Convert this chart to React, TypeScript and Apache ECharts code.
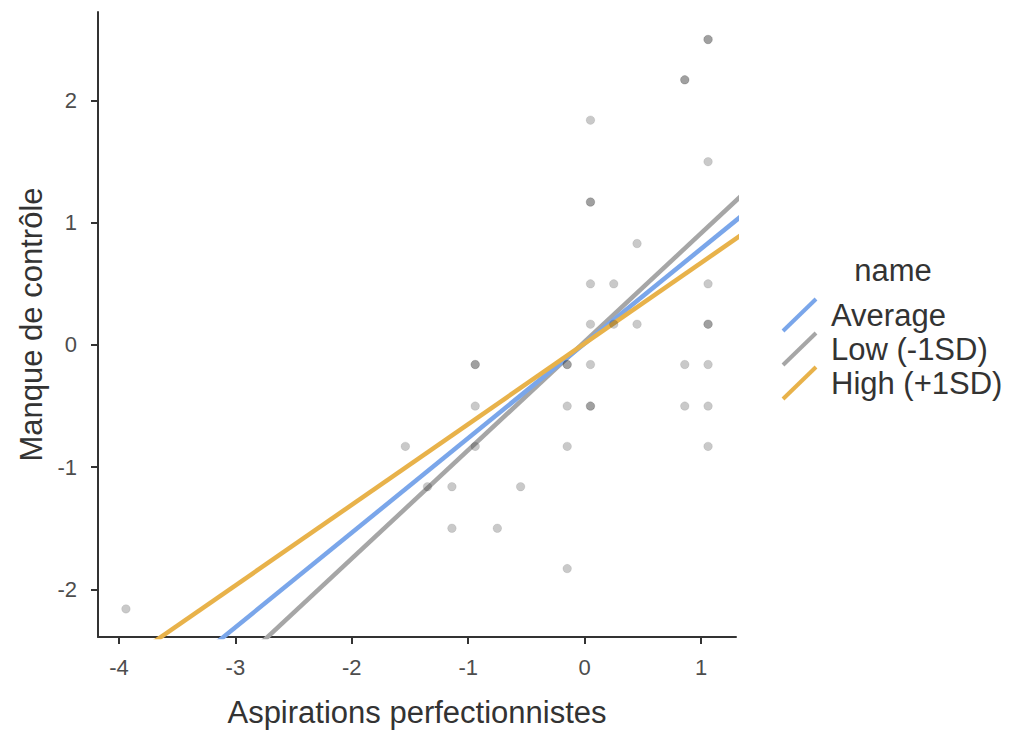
import React, { useEffect, useRef } from "react";
import * as echarts from "echarts";

const xTicks = [-4, -3, -2, -1, 0, 1];
const yTicks = [-2, -1, 0, 1, 2];

// observed points (duplicates = overlapping darker points)
const pointX = [
  -3.94, -1.54, -1.35, -1.14, -1.14, -0.94, -0.94, -0.94, -0.94, -0.75, -0.55,
  -0.15, -0.15, -0.15, -0.15, -0.15, 0.05, 0.05, 0.05, 0.05, 0.05, 0.05, 0.05,
  0.05, 0.25, 0.25, 0.45, 0.45, 0.86, 0.86, 0.86, 0.86, 1.06, 1.06, 1.06, 1.06,
  1.06, 1.06, 1.06, 1.06, 1.06,
];
const pointY = [
  -2.16, -0.83, -1.16, -1.16, -1.5, -0.16, -0.16, -0.5, -0.83, -1.5, -1.16,
  -0.16, -0.16, -0.5, -0.83, -1.83, -0.5, -0.5, -0.16, 0.17, 0.5, 1.17, 1.17,
  1.84, 0.17, 0.5, 0.17, 0.83, -0.16, -0.5, 2.17, 2.17, 2.5, 2.5, 1.5, 0.5,
  0.17, 0.17, -0.16, -0.5, -0.83,
];

const lineX = [-4.2, 1.35];
const averageY = [-3.24, 1.058];
const lowY = [-3.7, 1.225];
const highY = [-2.76, 0.903];

const seriesNames = ["Average", "Low (-1SD)", "High (+1SD)"];
const seriesColors = ["#7aa6ea", "#a6a6a6", "#e8b24a"];

const FONT = "Liberation Sans, Arial, sans-serif";

export default function App() {
  const ref = useRef<HTMLDivElement>(null);
  useEffect(() => {
    if (!ref.current) return;
    const chart = echarts.init(ref.current, null, { renderer: "svg" });
    const lineData = [averageY, lowY, highY].map((ys) =>
      lineX.map((x, i) => [x, ys[i]])
    );
    const drawOrder = [1, 0, 2];
    const legendY = [315, 349, 383];
    chart.setOption({
      animation: false,
      backgroundColor: "#ffffff",
      grid: { left: 98, top: 12, right: 273, bottom: 93, containLabel: false },
      xAxis: {
        type: "value",
        min: -4.18,
        max: 1.3,
        name: "Aspirations perfectionnistes",
        nameLocation: "middle",
        nameGap: 60,
        nameTextStyle: { fontSize: 31, color: "#333", fontFamily: FONT },
        splitLine: { show: false },
        axisLine: { show: true, onZero: false, lineStyle: { color: "#333", width: 2 } },
        axisTick: { show: true, length: 7, customValues: xTicks, lineStyle: { color: "#333", width: 2 } },
        axisLabel: {
          customValues: xTicks,
          fontSize: 22,
          color: "#4d4d4d",
          fontFamily: FONT,
          margin: 19,
          formatter: (v: number) => String(v),
        },
      },
      yAxis: {
        type: "value",
        min: -2.39,
        max: 2.725,
        name: "Manque de contrôle",
        nameLocation: "middle",
        nameGap: 50,
        nameTextStyle: { fontSize: 31, color: "#333", fontFamily: FONT },
        splitLine: { show: false },
        axisLine: { show: true, onZero: false, lineStyle: { color: "#333", width: 2 } },
        axisTick: { show: true, length: 7, customValues: yTicks, lineStyle: { color: "#333", width: 2 } },
        axisLabel: {
          customValues: yTicks,
          fontSize: 22,
          color: "#4d4d4d",
          fontFamily: FONT,
          margin: 21,
          formatter: (v: number) => String(v),
        },
      },
      series: [
        ...drawOrder.map((k) => ({
          type: "line",
          name: seriesNames[k],
          data: lineData[k],
          showSymbol: false,
          clip: true,
          lineStyle: { color: seriesColors[k], width: 4.5 },
          z: 2,
        })),
        {
          type: "scatter",
          data: pointX.map((x, i) => [x, pointY[i]]),
          symbolSize: 8.5,
          itemStyle: { color: "rgba(30,30,30,0.3)", borderColor: "rgba(30,30,30,0.12)", borderWidth: 1 },
          z: 3,
        },
      ],
      graphic: [
        {
          type: "text",
          x: 893,
          y: 270,
          style: {
            text: "name",
            fontSize: 31,
            fill: "#333",
            fontFamily: FONT,
            align: "center",
            verticalAlign: "middle",
            textAlign: "center",
            textVerticalAlign: "middle",
          },
        },
        ...seriesNames.map((n, i) => ({
          type: "line",
          shape: { x1: 783, y1: legendY[i] + 16, x2: 816, y2: legendY[i] - 16 },
          style: { stroke: seriesColors[i], lineWidth: 4 },
        })),
        ...seriesNames.map((n, i) => ({
          type: "text",
          x: 831,
          y: legendY[i],
          style: {
            text: n,
            fontSize: 31,
            fill: "#333",
            fontFamily: FONT,
            align: "left",
            verticalAlign: "middle",
            textAlign: "left",
            textVerticalAlign: "middle",
          },
        })),
      ],
    });
    return () => chart.dispose();
  }, []);
  return (
    <div
      ref={ref}
      style={{ position: "fixed", left: 0, top: 0, width: 1009, height: 733 }}
    />
  );
}
